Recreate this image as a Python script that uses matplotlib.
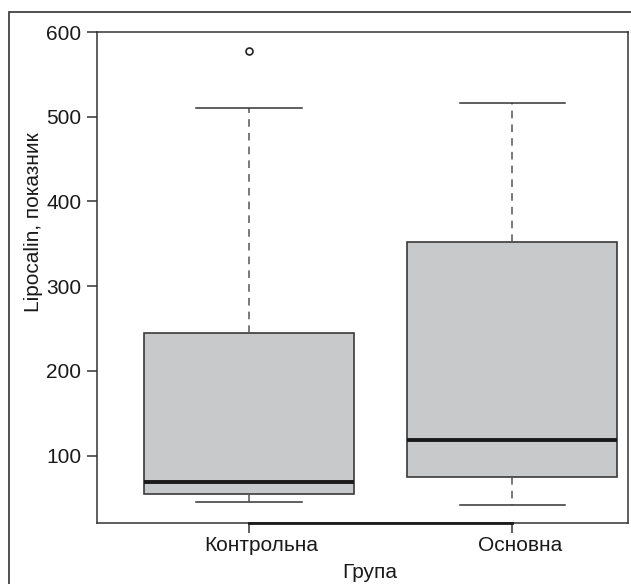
import matplotlib
matplotlib.use("Agg")
import matplotlib.pyplot as plt
from matplotlib.patches import Rectangle
from matplotlib.transforms import ScaledTranslation

# data
groups = ["Контрольна", "Основна"]
q1 = [55, 75]
med = [69, 118]
q3 = [245, 352]
wlo = [45, 42]
whi = [510, 516]
outliers = [[578], []]
yticks = [100, 200, 300, 400, 500, 600]

plt.rcParams['font.family'] = ['Liberation Sans', 'DejaVu Sans']

fig = plt.figure(figsize=(6.31, 5.84), dpi=100)
ax = fig.add_axes([0.153, 0.1036, 0.842, 0.8416])

stats = []
for i in range(len(groups)):
    stats.append({"med": med[i], "q1": q1[i], "q3": q3[i],
                  "whislo": wlo[i], "whishi": whi[i],
                  "fliers": outliers[i], "label": groups[i]})

ax.bxp(stats, positions=[1, 2], widths=0.8, patch_artist=True,
       boxprops=dict(facecolor="#c8c9cb", edgecolor="#3a3a3a", linewidth=1.2),
       medianprops=dict(color="#1a1a1a", linewidth=2.8),
       whiskerprops=dict(color="#555555", linestyle=(0, (5, 4)), linewidth=1.1),
       capprops=dict(color="#333333", linewidth=1.1),
       capwidths=0.4,
       flierprops=dict(marker="o", markersize=5, markerfacecolor="white",
                       markeredgecolor="#222222", markeredgewidth=1.2))

ax.set_xlim(0.42, 2.44)
ax.set_ylim(20, 600)
ax.set_yticks(yticks)
ax.set_xticks([1, 2])
ax.set_xticklabels(groups)

for s in ax.spines.values():
    s.set_color("#333333")
    s.set_linewidth(1.1)

# R-style axis line between the first and last x tick
ax.plot([1, 2], [20, 20], color="#1a1a1a", lw=2.0, clip_on=False, zorder=5)

ax.tick_params(direction="out", length=7.5, width=1.1, color="#333333",
               labelsize=15, labelcolor="#1a1a1a")
ax.tick_params(axis="y", pad=3.5)
ax.tick_params(axis="x", pad=1.5)

# the group names sit a little right of their ticks in the original
for lab, dx in zip(ax.get_xticklabels(), [12, 8]):
    lab.set_transform(lab.get_transform() + ScaledTranslation(dx / 100, 0, fig.dpi_scale_trans))

ax.set_ylabel("Lipocalin, показник", fontsize=15, color="#1a1a1a", labelpad=2)
ax.yaxis.label.set_y(0.614)
ax.set_xlabel("Група", fontsize=15, color="#1a1a1a", labelpad=6)
ax.xaxis.label.set_x(0.515)

# outer frame
fig.patches.append(Rectangle((9 / 631, -0.01), 1.0, 1 - 12 / 584 + 0.01,
                             transform=fig.transFigure, fill=False,
                             edgecolor="#333333", linewidth=1.2))

fig.savefig("out.png", dpi=100)
